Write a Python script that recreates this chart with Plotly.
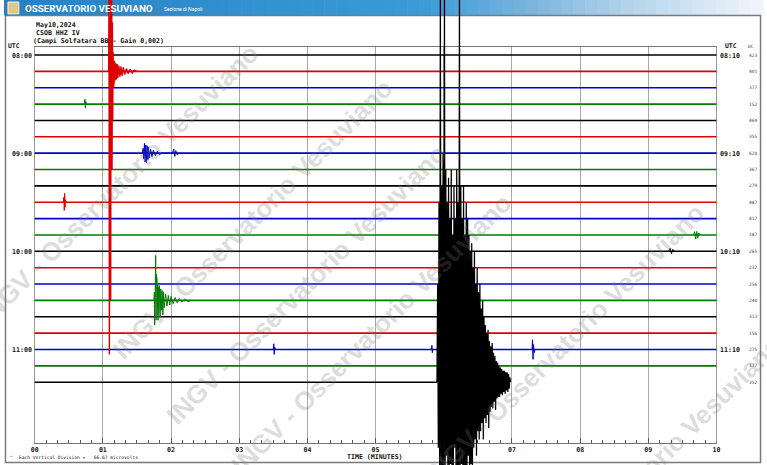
import plotly.graph_objects as go

# ---------------- data ----------------
LEFT_LABELS = ["08:00", "09:00", "10:00", "11:00"]
RIGHT_LABELS = ["08:10", "09:10", "10:10", "11:10"]
LABEL_ROWS = [0, 6, 12, 18]
DC_VALUES = [423, 401, 377, 152, 469, 355, 620, 367, 279, 487, 417,
             187, 265, 232, 256, 240, 313, 156, 275, 177, 352]
ROW_COLORS = ["#000000", "#dd0000", "#0000cc", "#007a00"]
ROW_END_MIN = [10] * 20 + [5.90]
MINUTE_TICKS = [0, 1, 2, 3, 4, 5, 6, 7, 8, 9, 10]
MINUTE_TEXT = ["00", "01", "02", "03", "04", "05", "06", "07", "08", "09", "10"]

# events: (row, times in minutes, amplitude in vertical divisions, up positive)
RED_ROW = 1
RED_T = [1.085, 1.090, 1.095, 1.100, 1.105, 1.110, 1.115, 1.120, 1.125, 1.130,
         1.135, 1.140, 1.145, 1.150, 1.155, 1.160, 1.165, 1.170, 1.180, 1.190,
         1.200, 1.210, 1.220, 1.235, 1.250, 1.265, 1.280, 1.300, 1.320, 1.345,
         1.370, 1.400, 1.430, 1.460, 1.500]
RED_V = [0, 5, -17.3, 5, -16, 5, -14, 5, -10, 4.5,
         -6, 3, -3, 1.2, -1.0, 0.8, -0.7, 0.65, -0.55, 0.5,
         -0.5, 0.45, -0.4, 0.35, -0.33, 0.3, -0.27, 0.25, -0.2, 0.17,
         -0.14, 0.12, -0.1, 0.07, 0]

BLUE_ROW = 6
BLUE_T = [1.58, 1.59, 1.60, 1.61, 1.62, 1.63, 1.64, 1.65, 1.66, 1.67, 1.68,
          1.70, 1.72, 1.74, 1.77, 1.80, 1.83, 1.86, 2.02, 2.04, 2.055, 2.07,
          2.09, 2.11]
BLUE_V = [0, 0.3, -0.35, 0.6, -0.55, 0.5, -0.6, 0.45, -0.4, 0.35, -0.3,
          0.25, -0.22, 0.18, -0.15, 0.12, -0.1, 0, 0, 0.25, -0.2, 0.15,
          -0.1, 0]

RED2_ROW = 9
RED2_T = [0.420, 0.428, 0.434, 0.440, 0.446, 0.452, 0.460]
RED2_V = [0, 0.3, -0.5, 0.55, -0.3, 0.15, 0]

GREEN_ROW = 15
GREEN_T = [1.750, 1.755, 1.760, 1.765, 1.770, 1.775, 1.780, 1.785, 1.790,
           1.795, 1.800, 1.805, 1.810, 1.815, 1.820, 1.830, 1.840, 1.850,
           1.860, 1.870, 1.880, 1.890, 1.900, 1.920, 1.940, 1.960, 1.980,
           2.000, 2.030, 2.060, 2.090, 2.120, 2.160, 2.200, 2.250, 2.300]
GREEN_V = [0, 0.5, -1.5, 1.2, -1.0, 2.75, -1.2, 1.6, -1.1,
           1.3, -0.9, 1.0, -1.2, 0.8, -0.8, 0.9, -1.0, 0.7,
           -0.6, 0.6, -0.9, 0.5, -0.45, 0.4, -0.35, 0.3, -0.28,
           0.25, -0.2, 0.18, -0.15, 0.12, -0.1, 0.08, -0.06, 0]

SMALL_ROWS = [3, 18, 18, 18, 11, 12]
SMALL_T = [[0.730, 0.737, 0.744, 0.751, 0.760],
           [3.500, 3.507, 3.513, 3.520, 3.530],
           [5.820, 5.826, 5.832, 5.840],
           [7.295, 7.302, 7.309, 7.316, 7.325, 7.340],
           [9.660, 9.680, 9.695, 9.710, 9.725, 9.740, 9.760],
           [9.300, 9.320, 9.340, 9.360, 9.380]]
SMALL_V = [[0, 0.3, -0.25, 0.15, 0],
           [0, 0.35, -0.3, 0.15, 0],
           [0, 0.25, -0.2, 0],
           [0, 0.6, -0.6, 0.3, -0.2, 0],
           [0, 0.2, -0.25, 0.22, -0.2, 0.12, 0],
           [0, 0.18, -0.15, 0.12, 0]]

BIG_ROW = 20
BIG_T = [5.90, 5.91, 5.92, 5.93, 5.94, 5.95, 5.96, 5.97, 5.98, 5.99,
         6.00, 6.01, 6.02, 6.03, 6.04, 6.05, 6.06, 6.07, 6.08, 6.09,
         6.10, 6.11, 6.12, 6.13, 6.14, 6.15, 6.16, 6.17, 6.18, 6.19,
         6.20, 6.21, 6.22, 6.23, 6.24, 6.25, 6.26, 6.27, 6.28, 6.29,
         6.30, 6.31, 6.32, 6.33, 6.34, 6.35, 6.36, 6.37, 6.38, 6.39,
         6.40, 6.41, 6.42, 6.43, 6.44, 6.45, 6.46, 6.47, 6.48, 6.49,
         6.50, 6.51, 6.52, 6.53, 6.54, 6.55, 6.56, 6.57, 6.58, 6.59,
         6.60, 6.61, 6.62, 6.63, 6.64, 6.65, 6.66, 6.67, 6.68, 6.69,
         6.70, 6.71, 6.72, 6.73, 6.74, 6.75, 6.76, 6.77, 6.78, 6.79,
         6.80, 6.81, 6.82, 6.83, 6.84, 6.85, 6.86, 6.87, 6.88, 6.89,
         6.90, 6.91, 6.92, 6.93, 6.94, 6.95, 6.96, 6.97, 6.98]
BIG_V = [0, 6, -4, 11, -6, 25, -6, 12, -5.5, 14,
         -6, 25, -6, 13, -4.5, 11, -6, 12.5, -6, 10,
         -5, 13, -6, 9, -6, 12, -4, 10, -6, 13,
         -6, 11, -6, 25, -6, 12, -5, 10, -6, 12,
         -6, 9, -5.5, 11, -6, 10, -4.5, 9, -6, 8,
         -5, 8.5, -6, 7, -4, 8, -3.5, 6, -4.5, 7,
         -3, 5.5, -3.5, 6, -3, 4.5, -2.5, 5, -3.5, 4,
         -2.2, 3.5, -2.5, 3, -2, 3.2, -2.8, 2.5, -1.8, 2.2,
         -1.5, 2.4, -1.6, 1.8, -1.2, 1.6, -1.7, 1.3, -1.0, 1.2,
         -0.9, 1.0, -0.9, 0.9, -0.7, 0.8, -0.8, 0.7, -0.6, 0.7,
         -0.7, 0.6, -0.5, 0.6, -0.6, 0.5, -0.4, 0.3, 0]

WATERMARK = "INGV - Osservatorio Vesuviano"

# ---------------- geometry (pixels) ----------------
W, H = 767, 465
X0_PX, PX_PER_MIN = 31.0, 68.9
ROW0_PX, PX_PER_ROW = 55.0, 16.36
BOX_TOP, BOX_BOT = 47.0, 443.0


def px(x):
    return x / W


def py(y):
    return 1 - y / H


def color_of(row):
    return ROW_COLORS[row % 4]


fig = go.Figure()

# frame subplot (x / y): grid, ticks, box
fig.add_trace(go.Scatter(x=[0], y=[0], mode="markers", marker=dict(opacity=0),
                         xaxis="x", yaxis="y", showlegend=False, hoverinfo="skip"))

# baselines of each row
n_rows = len(DC_VALUES)
for r in range(n_rows):
    fig.add_trace(go.Scatter(
        x=[0, ROW_END_MIN[r]], y=[r, r], mode="lines",
        line=dict(color=color_of(r), width=1.6),
        xaxis="x2", yaxis="y2", showlegend=False, hoverinfo="skip"))


def add_event(row, ts, vs, width=1.0):
    fig.add_trace(go.Scatter(
        x=ts, y=[row - v for v in vs], mode="lines",
        line=dict(color=color_of(row), width=width),
        xaxis="x2", yaxis="y2", showlegend=False, hoverinfo="skip"))


for row, ts, vs in zip(SMALL_ROWS, SMALL_T, SMALL_V):
    add_event(row, ts, vs)
add_event(RED2_ROW, RED2_T, RED2_V)
add_event(BLUE_ROW, BLUE_T, BLUE_V)
add_event(GREEN_ROW, GREEN_T, GREEN_V)
add_event(RED_ROW, RED_T, RED_V, width=1.4)
add_event(BIG_ROW, BIG_T, BIG_V, width=1.25)

# ---------------- shapes: header gradient, outer frame ----------------
shapes = []
stops = [(0.0, (42, 127, 193)), (0.30, (49, 144, 207)), (0.55, (58, 155, 214)),
         (0.70, (125, 182, 223)), (0.83, (183, 213, 236)), (1.0, (242, 246, 251))]


def grad(f):
    for (f0, c0), (f1, c1) in zip(stops[:-1], stops[1:]):
        if f0 <= f <= f1:
            t = (f - f0) / (f1 - f0)
            return "rgb(%d,%d,%d)" % tuple(round(a + (b - a) * t) for a, b in zip(c0, c1))
    return "rgb(242,246,251)"


NSTRIP = 64
for k in range(NSTRIP):
    x0 = W * k / NSTRIP
    x1 = W * (k + 1) / NSTRIP + 0.6
    shapes.append(dict(type="rect", xref="paper", yref="paper",
                       x0=px(x0), x1=px(x1), y0=py(15.5), y1=py(0),
                       fillcolor=grad((k + 0.5) / NSTRIP), line=dict(width=0),
                       layer="below"))
# logo
shapes.append(dict(type="rect", xref="paper", yref="paper", x0=px(4), x1=px(15),
                   y0=py(14), y1=py(2), fillcolor="#d9c98a", line=dict(color="#f5f0d8", width=1),
                   layer="below"))
# outer frame
shapes.append(dict(type="rect", xref="paper", yref="paper", x0=px(1.5), x1=px(764.5),
                   y0=py(462.5), y1=py(15.5), line=dict(color="#7a7a7a", width=1.5),
                   fillcolor="rgba(0,0,0,0)", layer="below"))

# ---------------- annotations ----------------
ann = []
MONO = "DejaVu Sans Mono"


def text(x, y, s, size=7, color="#111", xanchor="left", yanchor="middle", bold=True, family=MONO):
    ann.append(dict(x=px(x), y=py(y), xref="paper", yref="paper", text=s, showarrow=False,
                    xanchor=xanchor, yanchor=yanchor,
                    font=dict(family=family, size=size, color=color,
                              weight="bold" if bold else "normal")))


# watermark
for cx, cy in [(116, 184), (251, 219), (306, 284), (371, 334), (566, 344), (644, 476)]:
    ann.append(dict(x=px(cx), y=py(cy), xref="paper", yref="paper", text=WATERMARK,
                    showarrow=False, textangle=-45, xanchor="center", yanchor="middle",
                    font=dict(family="Liberation Sans", size=26, color="rgba(120,120,120,0.27)",
                              weight="bold")))

text(19, 8, "OSSERVATORIO VESUVIANO", size=9.8, color="white", family="Roboto", bold=True)
text(160, 8.5, "Sezione di Napoli", size=5, color="white", family="Roboto", bold=False)

text(30, 25.5, "May10,2024", size=6.6)
text(30, 33.5, "CSOB HHZ IV", size=6.6)
text(27, 41.5, "(Campi Solfatara BB - Gain 0,002)", size=6.6)

text(2, 46.0, "UTC", size=6.4)
text(727, 46.0, "UTC", size=6.4)
text(750, 46.5, "DC", size=4.5, bold=False, color="#333")
for r, lab in zip(LABEL_ROWS, LEFT_LABELS):
    text(30.5, ROW0_PX + PX_PER_ROW * r + 0.5, lab, size=6.6, xanchor="right")
for r, lab in zip(LABEL_ROWS, RIGHT_LABELS):
    text(721.5, ROW0_PX + PX_PER_ROW * r + 0.5, lab, size=6.6)
for r, v in enumerate(DC_VALUES):
    text(757, ROW0_PX + PX_PER_ROW * r, str(v), size=4.5, bold=False, color="#444",
         xanchor="center")

text(375, 457, "TIME (MINUTES)", size=6.6, xanchor="center")
text(4, 457.5, "^", size=4.5, bold=False)
text(13, 457.5, "Each Vertical Division =   66.67 microvolts", size=4.6, bold=False)

# ---------------- layout ----------------
y2_top = -ROW0_PX / PX_PER_ROW
y2_bot = (H - ROW0_PX) / PX_PER_ROW
x2_left = -X0_PX / PX_PER_MIN
x2_right = (W - X0_PX) / PX_PER_MIN

fig.update_layout(
    width=W, height=H, margin=dict(l=0, r=0, t=0, b=0),
    paper_bgcolor="white", plot_bgcolor="rgba(0,0,0,0)",
    showlegend=False, hovermode=False,
    shapes=shapes, annotations=ann,
    xaxis=dict(domain=[px(31), px(720)], range=[0, 10], anchor="y",
               tickmode="array", tickvals=MINUTE_TICKS, ticktext=MINUTE_TEXT,
               showgrid=True, gridcolor="#a8a8a8", gridwidth=1,
               ticks="inside", ticklen=5, tickcolor="#555", tickwidth=1,
               showline=True, linecolor="#777", linewidth=1, mirror=True,
               zeroline=False,
               minor=dict(tickmode="linear", tick0=0, dtick=1 / 6, ticks="inside",
                          ticklen=3, tickcolor="#555", showgrid=False),
               tickfont=dict(family=MONO, size=6.6, color="#111", weight="bold")),
    yaxis=dict(domain=[1 - BOX_BOT / H, 1 - BOX_TOP / H], range=[0, 1], anchor="x",
               showgrid=False, zeroline=False, showticklabels=False, ticks="",
               showline=True, linecolor="#999", mirror=True),
    xaxis2=dict(domain=[0, 1], range=[x2_left, x2_right], anchor="y2", visible=False),
    yaxis2=dict(domain=[0, 1], range=[y2_bot, y2_top], anchor="x2", visible=False),
)

fig.write_html("out.html")
